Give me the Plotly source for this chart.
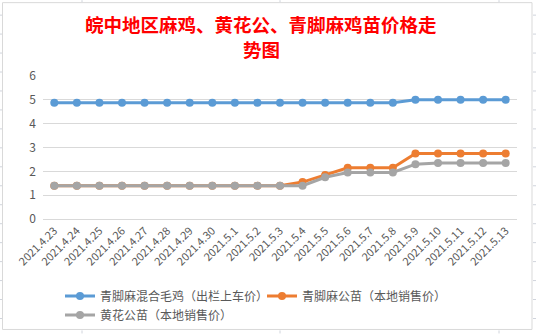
import plotly.graph_objects as go

dates = ["2021.4.23", "2021.4.24", "2021.4.25", "2021.4.26", "2021.4.27", "2021.4.28",
         "2021.4.29", "2021.4.30", "2021.5.1", "2021.5.2", "2021.5.3", "2021.5.4",
         "2021.5.5", "2021.5.6", "2021.5.7", "2021.5.8", "2021.5.9", "2021.5.10",
         "2021.5.11", "2021.5.12", "2021.5.13"]

mixed_broiler = [4.88, 4.88, 4.88, 4.88, 4.88, 4.88, 4.88, 4.88, 4.88, 4.88, 4.88,
                 4.88, 4.88, 4.88, 4.88, 4.88, 5.0, 5.0, 5.0, 5.0, 5.0]
qingjiao_chick = [1.4, 1.4, 1.4, 1.4, 1.4, 1.4, 1.4, 1.4, 1.4, 1.4, 1.4,
                  1.55, 1.85, 2.15, 2.15, 2.15, 2.75, 2.75, 2.75, 2.75, 2.75]
huanghua_chick = [1.4, 1.4, 1.4, 1.4, 1.4, 1.4, 1.4, 1.4, 1.4, 1.4, 1.4,
                  1.4, 1.75, 1.95, 1.95, 1.95, 2.3, 2.35, 2.35, 2.35, 2.35]

names = ["青脚麻混合毛鸡（出栏上车价）", "青脚麻公苗（本地销售价）", "黄花公苗（本地销售价）"]
colors = ["#5B9BD5", "#ED7D31", "#A5A5A5"]
title_lines = ["皖中地区麻鸡、黄花公、青脚麻鸡苗价格走", "势图"]

L, R, T, B = 43, 517, 76, 219.3
PW, PH = R - L, B - T


def px_x(x):
    return (x - L) / PW


def px_y(y):
    return (B - y) / PH


fig = go.Figure()
for name, vals, col in zip(names, [mixed_broiler, qingjiao_chick, huanghua_chick], colors):
    fig.add_trace(go.Scatter(
        x=dates, y=vals, name=name, mode="lines+markers",
        line=dict(color=col, width=3),
        marker=dict(color=col, size=8),
    ))

grid_col = "#D9D9D9"
shapes = [dict(type="rect", xref="x domain", yref="y domain",
               x0=px_x(2.5), x1=px_x(532), y0=px_y(330), y1=px_y(2.5),
               line=dict(color="#D9D9D9", width=1), layer="below")]
for yy in range(15, 334, 19):
    for xa, xb in [(0, 2), (533, 536)]:
        shapes.append(dict(type="line", xref="x domain", yref="y domain",
                           x0=px_x(xa), x1=px_x(xb), y0=px_y(yy), y1=px_y(yy),
                           line=dict(color="#D0D4DC", width=1)))
for xx in [82, 280, 499]:
    for ya, yb in [(0, 2), (331, 334)]:
        shapes.append(dict(type="line", xref="x domain", yref="y domain",
                           x0=px_x(xx), x1=px_x(xx), y0=px_y(ya), y1=px_y(yb),
                           line=dict(color="#D0D4DC", width=1)))

annotations = []
for i, (line, ypix) in enumerate(zip(title_lines, [24, 49])):
    annotations.append(dict(text="<b>" + line + "</b>", xref="paper", yref="paper",
                            x=px_x(261), y=px_y(ypix), xanchor="center", yanchor="middle",
                            showarrow=False,
                            font=dict(size=18.5, color="#FF0000", family="Noto Sans CJK SC")))

fig.update_layout(
    width=536, height=334,
    margin=dict(l=L, r=536 - R, t=T, b=334 - B, autoexpand=False),
    paper_bgcolor="white", plot_bgcolor="white",
    font=dict(family="Noto Sans CJK SC, sans-serif", color="#595959"),
    showlegend=True,
    legend=dict(orientation="h", x=px_x(60), xanchor="left", y=px_y(282), yanchor="top",
                font=dict(size=12, color="#595959"), itemwidth=30,
                entrywidth=157, tracegroupgap=0, bgcolor="rgba(0,0,0,0)"),
    xaxis=dict(type="category", tickangle=-45, range=[-0.5, 20.5], automargin=False,
               showgrid=False, showline=True, linecolor=grid_col, ticks="",
               tickfont=dict(size=11, color="#595959", family="Noto Sans CJK SC")),
    yaxis=dict(range=[0, 6], dtick=1, showgrid=True, gridcolor=grid_col, gridwidth=1,
               zeroline=False, showline=False, ticks="", automargin=False,
               ticklabelstandoff=6,
               tickfont=dict(size=12, color="#595959", family="Noto Sans CJK SC")),
    shapes=shapes,
    annotations=annotations,
)

fig.write_html("out.html")
